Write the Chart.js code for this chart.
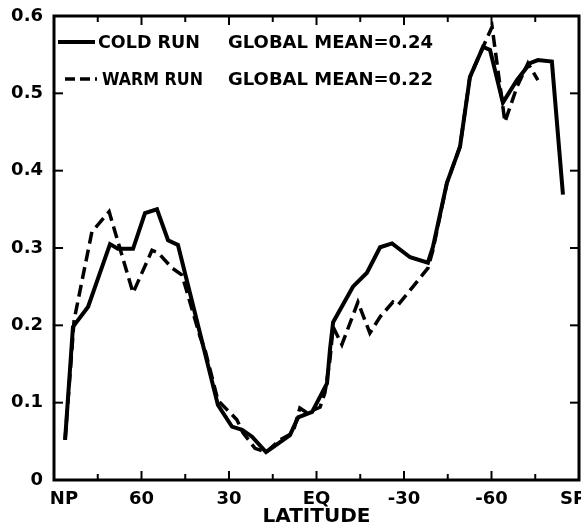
<!DOCTYPE html>
<html>
<head>
<meta charset="utf-8">
<script src="https://cdn.jsdelivr.net/npm/chart.js@4.4.1/dist/chart.umd.min.js"></script>
<style>
  html, body { margin: 0; padding: 0; background: #fff; }
  #wrap { width: 581px; height: 529px; }
</style>
</head>
<body>
<div id="wrap"><canvas id="latChart" width="581" height="529"></canvas></div>
<script>
// zonal profiles, latitude in degrees (+ north)
const coldLat = [86.2, 83.5, 78.3, 70.8, 68.1, 62.9, 58.8, 54.7, 50.9, 47.5, 33.8, 29.0, 25.5, 22.1, 17.3, 9.1, 6.3, 1.5, -3.6, -4.6, -5.7, -12.5, -17.3, -21.8, -25.9, -32.1, -38.2, -39.9, -44.7, -49.2, -52.6, -57.1, -59.5, -63.9, -68.7, -73.2, -75.9, -80.7, -84.5];
const coldVal = [0.052, 0.198, 0.224, 0.305, 0.299, 0.299, 0.345, 0.350, 0.310, 0.304, 0.097, 0.069, 0.065, 0.056, 0.036, 0.058, 0.081, 0.088, 0.125, 0.168, 0.204, 0.250, 0.268, 0.301, 0.306, 0.288, 0.281, 0.301, 0.384, 0.431, 0.521, 0.560, 0.556, 0.488, 0.517, 0.539, 0.543, 0.541, 0.369];

const warmLat = [86.2, 83.1, 77.0, 71.1, 62.9, 56.4, 54.3, 49.5, 46.1, 39.9, 38.2, 33.8, 30.7, 27.3, 25.2, 21.1, 17.3, 12.5, 8.1, 5.7, 3.3, -1.2, -2.9, -4.6, -5.7, -8.7, -14.2, -18.3, -21.8, -26.2, -27.9, -33.1, -38.2, -39.9, -44.7, -49.2, -52.6, -57.1, -60.2, -64.6, -68.7, -72.5, -75.9];
const warmVal = [0.052, 0.207, 0.321, 0.347, 0.242, 0.297, 0.294, 0.274, 0.265, 0.185, 0.168, 0.103, 0.091, 0.078, 0.061, 0.041, 0.036, 0.052, 0.061, 0.093, 0.087, 0.094, 0.113, 0.155, 0.198, 0.175, 0.230, 0.190, 0.211, 0.230, 0.226, 0.250, 0.274, 0.297, 0.384, 0.431, 0.521, 0.560, 0.586, 0.463, 0.508, 0.539, 0.517];

const yTicks = [0, 0.1, 0.2, 0.3, 0.4, 0.5, 0.6];
const latTicks = [90, 60, 30, 0, -30, -60, -90];
const latTickLabels = ['NP', '60', '30', 'EQ', '-30', '-60', 'SP'];
const runNames = ['COLD RUN', 'WARM RUN'];
const runMeans = ['GLOBAL MEAN=0.24', 'GLOBAL MEAN=0.22'];

const pairs = (xs, ys) => xs.map((v, i) => ({ x: v, y: ys[i] }));

// box, inward ticks, latitude labels and the key
const frame = {
  id: 'frame',
  afterDatasetsDraw(chart) {
    const { ctx, chartArea: a, scales: { x, y } } = chart;
    const seg = (x1, y1, x2, y2) => { ctx.beginPath(); ctx.moveTo(x1, y1); ctx.lineTo(x2, y2); ctx.stroke(); };
    ctx.save();
    ctx.strokeStyle = '#000';
    ctx.fillStyle = '#000';
    ctx.lineWidth = 3;
    ctx.strokeRect(a.left, a.top, a.right - a.left, a.bottom - a.top);

    ctx.lineWidth = 2;
    for (let lat = -75; lat <= 75; lat += 15) {
      const px = x.getPixelForValue(lat);
      const len = lat % 30 === 0 ? 9 : 6;
      seg(px, a.bottom, px, a.bottom - len);
      seg(px, a.top, px, a.top + len);
    }
    yTicks.slice(1, -1).forEach(v => {
      const py = y.getPixelForValue(v);
      seg(a.left, py, a.left + 9, py);
      seg(a.right, py, a.right - 9, py);
    });

    ctx.font = 'bold 18px "DejaVu Sans"';
    ctx.textAlign = 'center';
    ctx.textBaseline = 'top';
    latTicks.forEach((lat, i) => {
      const px = Math.min(Math.max(x.getPixelForValue(lat), a.left + 10), a.right - 6);
      ctx.fillText(latTickLabels[i], px, a.bottom + 10);
    });

    // key
    ctx.font = 'bold 18px "DejaVu Sans"';
    ctx.textAlign = 'left';
    ctx.textBaseline = 'middle';
    ctx.lineWidth = 4;
    seg(58, 42, 95, 42);
    ctx.fillText(runNames[0], 98, 43, 102);
    ctx.fillText(runMeans[0], 228, 43, 207);
    ctx.setLineDash([10, 5]);
    ctx.lineWidth = 3.5;
    seg(65, 79, 97, 79);
    ctx.setLineDash([]);
    ctx.fillText(runNames[1], 102, 80, 101);
    ctx.fillText(runMeans[1], 228, 80, 205);
    ctx.restore();
  }
};

new Chart(document.getElementById('latChart'), {
  type: 'line',
  data: {
    datasets: [
      {
        label: runNames[0],
        data: pairs(coldLat, coldVal),
        borderColor: '#000',
        borderWidth: 4,
        pointRadius: 0,
        tension: 0,
        fill: false
      },
      {
        label: runNames[1],
        data: pairs(warmLat, warmVal),
        borderColor: '#000',
        borderWidth: 3.5,
        borderDash: [12, 6],
        pointRadius: 0,
        tension: 0,
        fill: false
      }
    ]
  },
  options: {
    responsive: false,
    animation: false,
    devicePixelRatio: 1,
    layout: { padding: { top: 16, right: 2, left: 0, bottom: 0 } },
    plugins: { legend: { display: false }, tooltip: { enabled: false } },
    scales: {
      x: {
        type: 'linear',
        reverse: true,
        min: -90,
        max: 90,
        grid: { display: false, drawTicks: false },
        border: { display: false },
        ticks: { display: false, stepSize: 30 },
        title: {
          display: true,
          text: 'LATITUDE',
          color: '#000',
          font: { family: 'DejaVu Sans', weight: 'bold', size: 20 },
          padding: { top: 0, bottom: 0 }
        },
        afterFit: s => { s.height = 49; s.paddingLeft = 0; s.paddingRight = 0; }
      },
      y: {
        min: 0,
        max: 0.6,
        grid: { display: false, drawTicks: false },
        border: { display: false },
        ticks: {
          stepSize: 0.1,
          color: '#000',
          padding: 11,
          font: { family: 'DejaVu Sans', weight: 'bold', size: 18 },
          callback: v => (v === 0 ? '0' : v.toFixed(1))
        },
        afterFit: s => { s.width = 54; s.paddingTop = 0; s.paddingBottom = 0; }
      }
    }
  },
  plugins: [frame]
});
</script>
</body>
</html>
